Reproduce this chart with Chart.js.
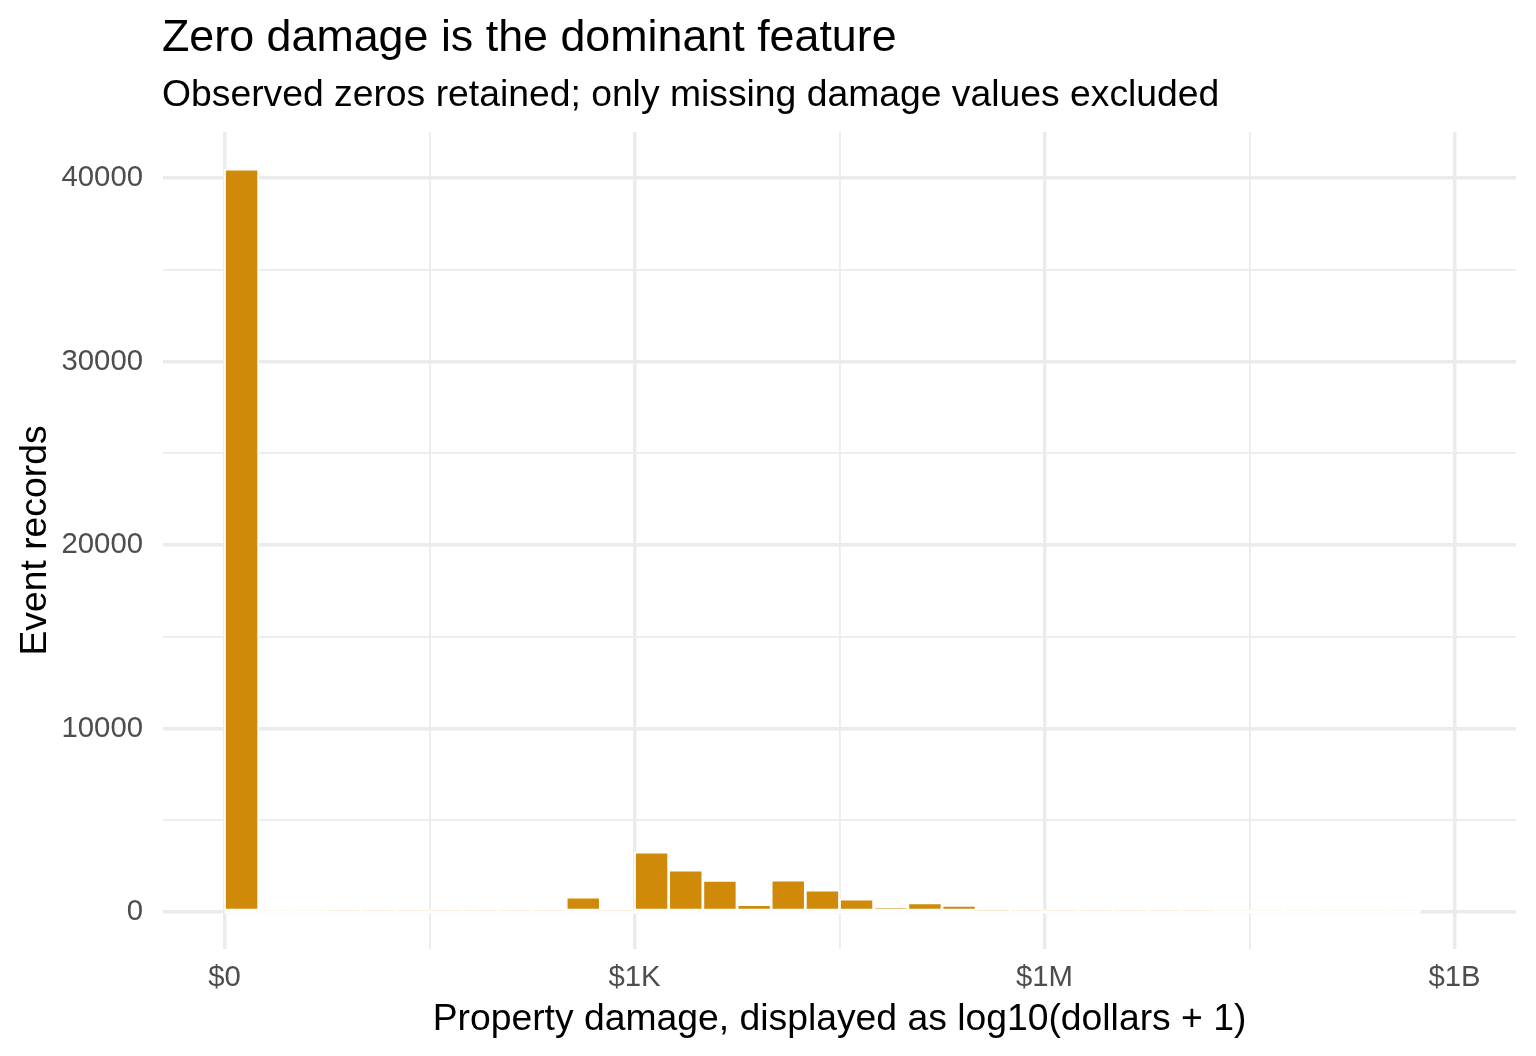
<!DOCTYPE html>
<html>
<head>
<meta charset="utf-8">
<script src="https://cdn.jsdelivr.net/npm/chart.js@4.4.1/dist/chart.umd.min.js"></script>
<style>
  html, body { margin: 0; padding: 0; background: #fff; }
  canvas { display: block; }
</style>
</head>
<body>
<canvas id="histChart" width="1536" height="1056"></canvas>
<script>
// bins of log10(dollars + 1), width 0.25, left edges
const binStarts = [0, 0.25, 0.5, 0.75, 1, 1.25, 1.5, 1.75, 2, 2.25, 2.5, 2.75,
  3, 3.25, 3.5, 3.75, 4, 4.25, 4.5, 4.75, 5, 5.25, 5.5, 5.75,
  6, 6.25, 6.5, 6.75, 7, 7.25, 7.5, 7.75, 8, 8.25, 8.5];
const binCounts = [40490, 3, 2, 4, 6, 8, 15, 10, 25, 30, 800, 20,
  3250, 2270, 1710, 400, 1730, 1180, 690, 270, 490, 350, 40, 30,
  25, 12, 8, 6, 4, 3, 2, 2, 1, 1, 1];
const binWidth = 0.25;

const xTickValues = [0, 1.5, 3, 4.5, 6, 7.5, 9];
const xTickLabels = { 0: '$0', 3: '$1K', 6: '$1M', 9: '$1B' };
const yTickValues = [0, 5000, 10000, 15000, 20000, 25000, 30000, 35000, 40000];

const titleText = 'Zero damage is the dominant feature';
const subtitleText = 'Observed zeros retained; only missing damage values excluded';

const FONT = "'Liberation Sans', Arial, Helvetica, sans-serif";
const barFill = '#D08A09';
const gridCol = '#EBEBEB';

const bars = binStarts.map((s, i) => ({ x: s + binWidth / 2, y: binCounts[i] }));
const lastEdge = binStarts[binStarts.length - 1] + binWidth;

// ggplot-style 5% expansion
const yMaxData = Math.max(...binCounts);
const yPad = yMaxData * 0.05;
const xLo = 0, xHi = 9, xPad = (xHi - xLo) * 0.05;

const headerPlugin = {
  id: 'header',
  afterDraw(chart) {
    const ctx = chart.ctx;
    const left = chart.chartArea.left - 1;
    ctx.save();
    ctx.fillStyle = '#000';
    ctx.textAlign = 'left';
    ctx.textBaseline = 'alphabetic';
    ctx.font = `44.8px ${FONT}`;
    ctx.fillText(titleText, left, 51);
    ctx.font = `37.3px ${FONT}`;
    ctx.fillText(subtitleText, left, 106);
    ctx.restore();
  }
};

new Chart(document.getElementById('histChart'), {
  type: 'bar',
  data: {
    datasets: [
      {
        type: 'line',
        label: 'empty-bin outline',
        data: [{ x: binStarts[0], y: 0 }, { x: lastEdge, y: 0 }],
        borderColor: '#ffffff',
        borderWidth: 3.4,
        pointRadius: 0,
        order: 0
      },
      {
        label: 'Event records',
        data: bars,
        backgroundColor: barFill,
        borderColor: '#ffffff',
        borderWidth: 1.7,
        borderSkipped: false,
        barPercentage: 1,
        categoryPercentage: 1,
        order: 1
      }
    ]
  },
  options: {
    responsive: false,
    devicePixelRatio: 1,
    animation: false,
    layout: { padding: { top: 132, right: 20, bottom: 0, left: 0 } },
    plugins: {
      legend: { display: false },
      tooltip: { enabled: false }
    },
    scales: {
      x: {
        type: 'linear',
        offset: false,
        min: xLo - xPad,
        max: xHi + xPad,
        afterBuildTicks: s => { s.ticks = xTickValues.map(v => ({ value: v })); },
        afterFit: s => { s.height = 107; },
        grid: {
          offset: false,
          color: gridCol,
          lineWidth: c => (c.tick && xTickLabels[c.tick.value] !== undefined) ? 3.5 : 1.8,
          drawTicks: false
        },
        border: { display: false },
        ticks: {
          autoSkip: false,
          maxRotation: 0,
          padding: 11,
          color: '#4D4D4D',
          font: { family: FONT, size: 29.3 },
          callback: v => xTickLabels[v] || ''
        },
        title: {
          display: true,
          text: 'Property damage, displayed as log10(dollars + 1)',
          color: '#000',
          font: { family: FONT, size: 37.3 },
          padding: { top: 0, bottom: 14 }
        }
      },
      y: {
        min: -yPad,
        max: yMaxData + yPad,
        afterBuildTicks: s => { s.ticks = yTickValues.map(v => ({ value: v })); },
        afterFit: s => { s.width = 163; },
        grid: {
          color: gridCol,
          lineWidth: c => (c.tick && c.tick.value % 10000 === 0) ? 3.5 : 1.8,
          drawTicks: false
        },
        border: { display: false },
        ticks: {
          autoSkip: false,
          padding: 20,
          color: '#4D4D4D',
          font: { family: FONT, size: 29.3 },
          callback: v => (v % 10000 === 0 ? String(v) : '')
        },
        title: {
          display: true,
          text: 'Event records',
          color: '#000',
          font: { family: FONT, size: 37.3 },
          padding: { top: 13, bottom: 0 }
        }
      }
    }
  },
  plugins: [headerPlugin]
});
</script>
</body>
</html>
